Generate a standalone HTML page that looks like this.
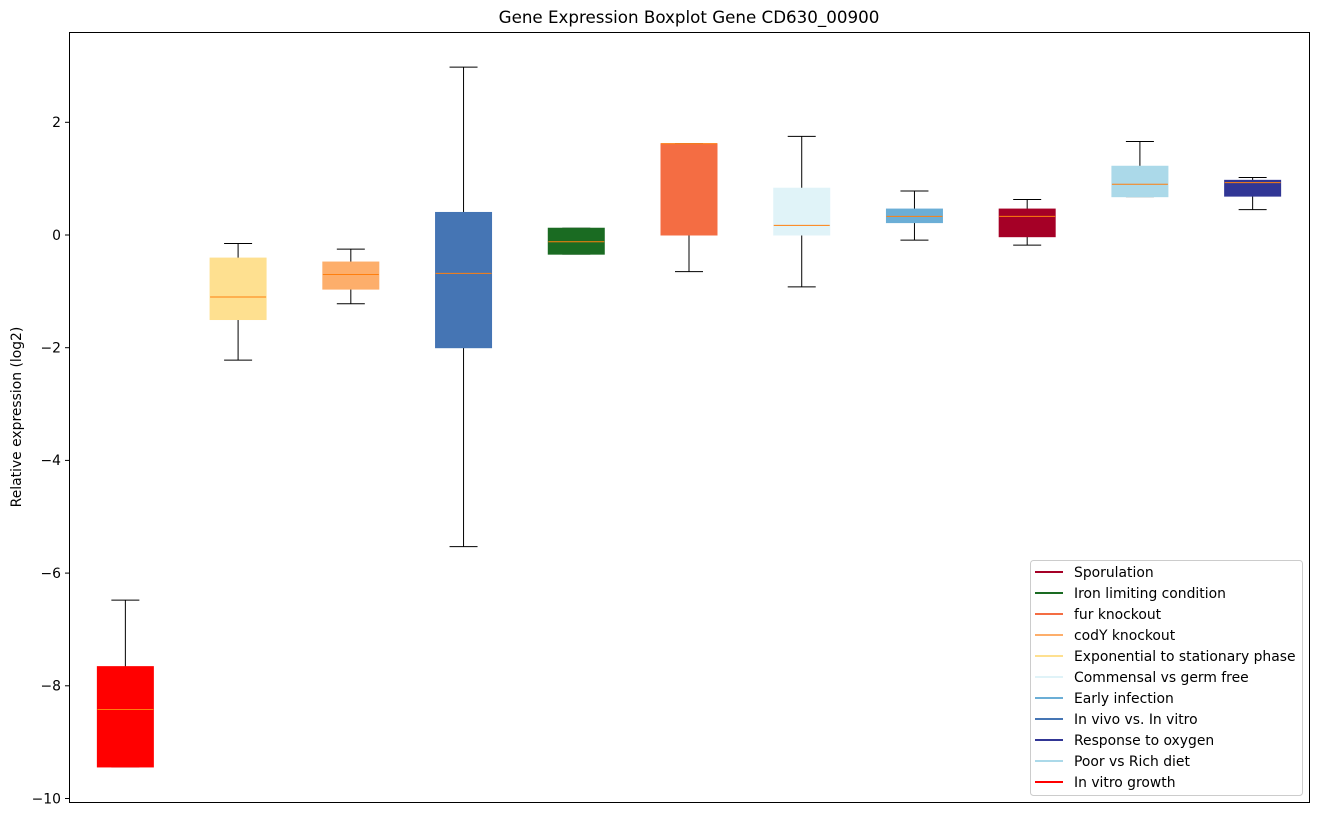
<!DOCTYPE html>
<html><head><meta charset="utf-8"><style>
body{margin:0;background:#fff;}
svg text{font-family:"DejaVu Sans","Liberation Sans",sans-serif;}
</style></head><body>
<svg id="chart" width="1318" height="817">
<text x="689" y="23" text-anchor="middle" font-size="16.7">Gene Expression Boxplot Gene CD630_00900</text>
<text transform="translate(21,417) rotate(-90)" text-anchor="middle" font-size="13.9">Relative expression (log2)</text>
<g id="boxes"></g>
<g id="yticks"></g>
<rect x="69.5" y="32.5" width="1240" height="770" fill="none" stroke="#000" stroke-width="1"/>
<g id="legend"></g>
</svg>
<script>
const categories=["In vitro growth","Exponential to stationary phase","codY knockout","In vivo vs. In vitro","Iron limiting condition","fur knockout","Commensal vs germ free","Early infection","Sporulation","Poor vs Rich diet","Response to oxygen"];
const colors=["#ff0000","#fee090","#fdae6b","#4575b4","#1a6b22","#f46d43","#e0f3f8","#6baed6","#a50026","#abd9e9","#313695"];
const whiskerLow=[-9.44,-2.22,-1.22,-5.53,-0.34,-0.65,-0.92,-0.09,-0.18,0.68,0.45];
const q1=[-9.44,-1.5,-0.96,-2.0,-0.34,0,0,0.22,-0.03,0.68,0.69];
const medians=[-8.42,-1.1,-0.7,-0.68,-0.12,1.62,0.17,0.33,0.33,0.9,0.93];
const q3=[-7.66,-0.41,-0.48,0.4,0.12,1.62,0.83,0.46,0.46,1.22,0.97];
const whiskerHigh=[-6.48,-0.15,-0.25,2.98,0.12,1.62,1.75,0.78,0.63,1.66,1.02];
const yTicks=[2,0,-2,-4,-6,-8,-10];
const legendLabels=["Sporulation","Iron limiting condition","fur knockout","codY knockout","Exponential to stationary phase","Commensal vs germ free","Early infection","In vivo vs. In vitro","Response to oxygen","Poor vs Rich diet","In vitro growth"];
const legendColors=["#a50026","#1a6b22","#f46d43","#fdae6b","#fee090","#e0f3f8","#6baed6","#4575b4","#313695","#abd9e9","#ff0000"];

const NS="http://www.w3.org/2000/svg";
const y=v=>235-v*56.35;
const x=i=>69+(i+0.5)*(1240/11);
function mk(tag,attrs,parent){const e=document.createElementNS(NS,tag);for(const k in attrs)e.setAttribute(k,attrs[k]);parent.appendChild(e);return e;}
const bx=document.getElementById('boxes');
categories.forEach((c,i)=>{
  const cx=x(i),w=56;
  const g=mk('g',{},bx);
  
  
  mk('line',{x1:cx,x2:cx,y1:y(q3[i]),y2:y(whiskerHigh[i]),stroke:'#000'},g);
  mk('line',{x1:cx,x2:cx,y1:y(q1[i]),y2:y(whiskerLow[i]),stroke:'#000'},g);
  mk('line',{x1:cx-14,x2:cx+14,y1:y(whiskerHigh[i]),y2:y(whiskerHigh[i]),stroke:'#000'},g);
  mk('line',{x1:cx-14,x2:cx+14,y1:y(whiskerLow[i]),y2:y(whiskerLow[i]),stroke:'#000'},g);
  mk('rect',{x:cx-w/2,y:y(q3[i]),width:w,height:Math.max(1,y(q1[i])-y(q3[i])),fill:colors[i],stroke:colors[i]},g);
  mk('line',{x1:cx-w/2,x2:cx+w/2,y1:y(medians[i]),y2:y(medians[i]),stroke:'#ff7f0e','stroke-width':1},g);
});
const yt=document.getElementById('yticks');
yTicks.forEach(t=>{
  const g=mk('g',{},yt);
  
  
  mk('line',{x1:65,x2:69,y1:y(t),y2:y(t),stroke:'#000'},g);
  const tx=mk('text',{x:61,y:y(t)+4.8,'text-anchor':'end','font-size':13.9},g);
  tx.textContent=(t<0?'\u2212'+(-t):t);
});
const lg=document.getElementById('legend');
const lb=mk('rect',{x:1030.5,y:560.5,width:272,height:235,rx:3,fill:'#fff',stroke:'#ccc'},lg);


legendLabels.forEach((l,i)=>{
  const g=mk('g',{},lg);
  
  
  const yy=572+i*21;
  mk('line',{x1:1035,x2:1063,y1:yy,y2:yy,stroke:legendColors[i],'stroke-width':2},g);
  const t=mk('text',{x:1074,y:yy+4.8,'font-size':13.9},g);
  t.textContent=l;
});
</script>
</body></html>
